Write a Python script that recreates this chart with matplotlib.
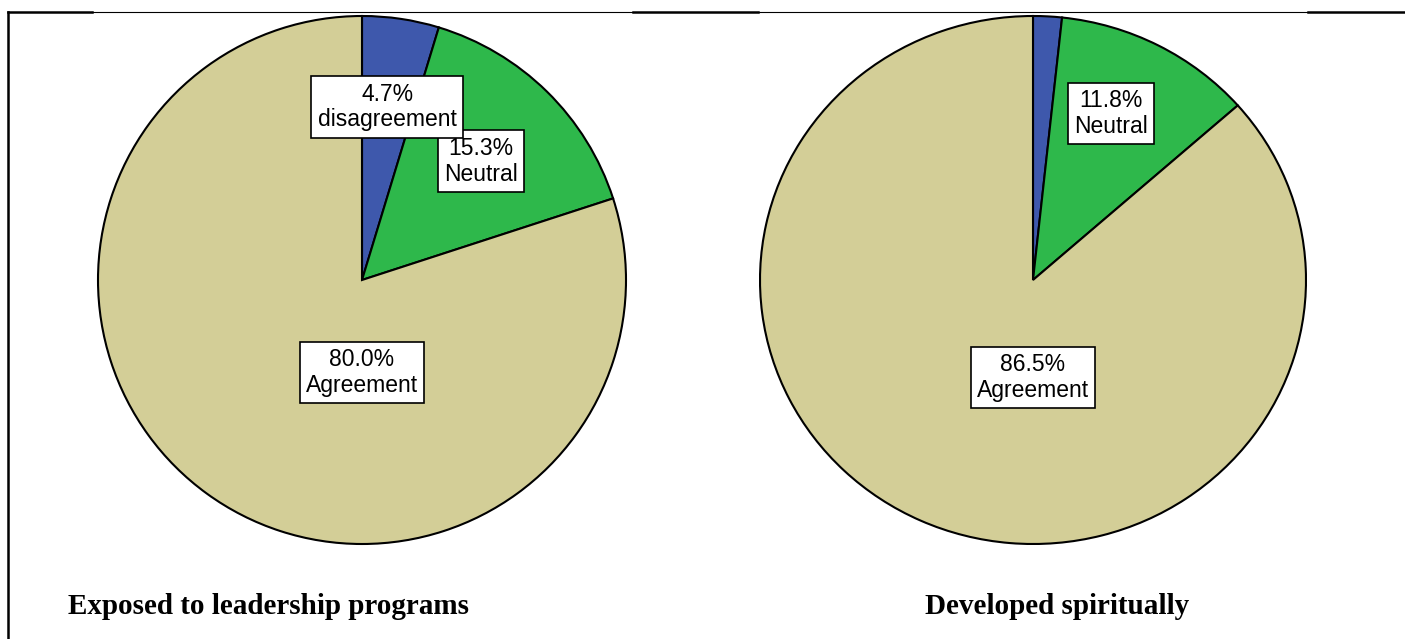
import matplotlib.pyplot as plt

labels = ['disagreement', 'Neutral', 'Agreement']
colors = ['#3E58AC', '#2EB84B', '#D3CE97']

# left pie: Exposed to leadership programs
left_vals = [4.7, 15.3, 80.0]
# right pie: Developed spiritually (disagreement not labelled in the original)
right_vals = [1.7, 11.8, 86.5]
right_shown = [False, True, True]

titles = ['Exposed to leadership programs', 'Developed spiritually']

W, H = 1405, 639
fig = plt.figure(figsize=(W / 100, H / 100), dpi=100)

def px_axes(x0, y0, x1, y1):
    # pixel box (top-left origin) -> figure axes
    return fig.add_axes([x0 / W, 1 - y1 / H, (x1 - x0) / W, (y1 - y0) / H])

# frame lines like the table border in the source document
frame = fig.add_axes([0, 0, 1, 1])
frame.set_xlim(0, W)
frame.set_ylim(H, 0)
frame.axis('off')
frame.plot([8, 92], [12, 12], color='black', lw=1.8)
frame.plot([92, 633], [12, 12], color='black', lw=0.8)
frame.plot([633, 758], [12, 12], color='black', lw=1.8)
frame.plot([758, 1308], [12, 12], color='black', lw=0.8)
frame.plot([1308, 1405], [12, 12], color='black', lw=1.8)
frame.plot([8, 8], [12, 639], color='black', lw=1.8)

box = dict(boxstyle='square,pad=0.28', facecolor='white', edgecolor='black', linewidth=1.2)
font = ['Liberation Sans', 'DejaVu Sans']
wedge = dict(edgecolor='black', linewidth=1.5)

# left pie
ax1 = px_axes(98, 16, 626, 544)
ax1.pie(left_vals, colors=colors, startangle=90, counterclock=False, wedgeprops=wedge)
ax1.set_aspect('auto')
ax1.set_xlim(-1.0, 1.0)
ax1.set_ylim(-1.0, 1.0)
lab_pos1 = [(0.095, 0.655), (0.45, 0.45), (0.0, -0.35)]
order = [1, 2, 0]
for i in order:
    x, y = lab_pos1[i]
    ax1.text(x, y, f'{left_vals[i]:.1f}%\n{labels[i]}', ha='center', va='center',
             fontsize=16.5, family=font, bbox=box, zorder=5 + (i == 0),
             linespacing=1.15)

# right pie
ax2 = px_axes(760, 16, 1306, 544)
ax2.pie(right_vals, colors=colors, startangle=90, counterclock=False, wedgeprops=wedge)
ax2.set_aspect('auto')
ax2.set_xlim(-1.0, 1.0)
ax2.set_ylim(-1.0, 1.0)
lab_pos2 = [(0.0, 0.9), (0.285, 0.63), (0.0, -0.37)]
for i in range(3):
    if not right_shown[i]:
        continue
    x, y = lab_pos2[i]
    ax2.text(x, y, f'{right_vals[i]:.1f}%\n{labels[i]}', ha='center', va='center',
             fontsize=16.5, family=font, bbox=box, zorder=5, linespacing=1.15)

serif = ['Liberation Serif', 'DejaVu Serif']
fig.text(68 / W, 1 - 607 / H, titles[0], ha='left', va='center', fontsize=21,
         fontweight='bold', family=serif)
fig.text(1057 / W, 1 - 607 / H, titles[1], ha='center', va='center', fontsize=21,
         fontweight='bold', family=serif)

fig.savefig('out.png', dpi=100, facecolor='white')
